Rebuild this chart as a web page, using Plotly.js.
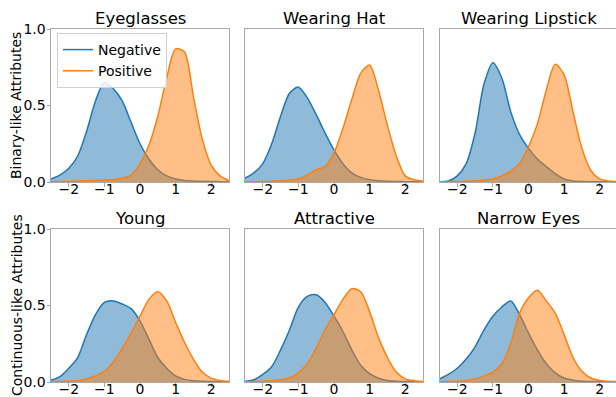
<!DOCTYPE html>
<html><head><meta charset="utf-8">
<script src="https://cdn.plot.ly/plotly-3.0.1.min.js"></script>
<style>html,body{margin:0;padding:0;overflow:hidden;background:#fff}#chart{width:620px;height:397px}</style>
</head><body><div id="chart"></div>
<script>
const xGrid = [-2.5,-2.25,-2,-1.75,-1.5,-1.25,-1,-0.75,-0.5,-0.25,0,0.25,0.5,0.75,1,1.25,1.5,1.75,2,2.25,2.5];
const panelTitles = ["Eyeglasses","Wearing Hat","Wearing Lipstick","Young","Attractive","Narrow Eyes"];
const rowTitles = ["Binary-like Attributes","Continuous-like Attributes"];
const seriesNames = ["Negative","Positive"];
const xTicks = [-2,-1,0,1,2];
const yTicks = [0,0.5,1];

const negEyeglasses = [0.02,0.045,0.09,0.17,0.33,0.53,0.65,0.61,0.53,0.39,0.25,0.15,0.08,0.04,0.02,0.01,0.006,0.004,0.003,0.002,0.001];
const posEyeglasses = [0.002,0.003,0.004,0.006,0.008,0.01,0.012,0.015,0.025,0.045,0.12,0.24,0.43,0.68,0.87,0.85,0.56,0.28,0.11,0.04,0.01];
const negWearingHat = [0.025,0.06,0.12,0.25,0.43,0.58,0.62,0.55,0.44,0.32,0.21,0.12,0.06,0.03,0.015,0.008,0.005,0.003,0.002,0.001,0.001];
const posWearingHat = [0.001,0.002,0.003,0.005,0.008,0.012,0.02,0.045,0.08,0.1,0.19,0.35,0.54,0.71,0.765,0.6,0.37,0.17,0.04,0.015,0.005];
const negWearingLipstick = [0.002,0.006,0.04,0.12,0.32,0.64,0.78,0.68,0.46,0.31,0.22,0.15,0.1,0.055,0.02,0.007,0.003,0.002,0.001,0.001,0.001];
const posWearingLipstick = [0.001,0.002,0.003,0.005,0.008,0.012,0.02,0.04,0.07,0.12,0.23,0.38,0.6,0.77,0.7,0.46,0.22,0.075,0.02,0.007,0.002];
const negYoung = [0.012,0.035,0.09,0.16,0.31,0.44,0.52,0.53,0.51,0.48,0.4,0.28,0.16,0.09,0.04,0.017,0.008,0.005,0.003,0.002,0.001];
const posYoung = [0.003,0.004,0.005,0.008,0.02,0.04,0.07,0.13,0.22,0.32,0.43,0.54,0.59,0.53,0.39,0.26,0.15,0.065,0.025,0.01,0.004];
const negAttractive = [0.005,0.015,0.05,0.1,0.21,0.34,0.49,0.56,0.57,0.52,0.43,0.33,0.21,0.11,0.055,0.025,0.01,0.005,0.003,0.002,0.001];
const posAttractive = [0.002,0.003,0.005,0.008,0.015,0.026,0.06,0.12,0.22,0.34,0.44,0.54,0.61,0.59,0.46,0.29,0.16,0.065,0.02,0.008,0.003];
const negNarrowEyes = [0.02,0.05,0.09,0.15,0.23,0.34,0.43,0.49,0.53,0.44,0.32,0.21,0.12,0.06,0.026,0.012,0.005,0.003,0.002,0.001,0.001];
const posNarrowEyes = [0.002,0.003,0.005,0.01,0.02,0.04,0.065,0.12,0.25,0.45,0.55,0.6,0.53,0.45,0.31,0.16,0.07,0.026,0.01,0.005,0.002];

const negSeries = [negEyeglasses,negWearingHat,negWearingLipstick,negYoung,negAttractive,negNarrowEyes];
const posSeries = [posEyeglasses,posWearingHat,posWearingLipstick,posYoung,posAttractive,posNarrowEyes];

const W = 620, H = 397;
const colPx = [[51,229],[245,423],[439.5,617.5]];
const rowPx = [[29,182],[229,382]];
const BLUE = '#1f77b4', ORANGE = '#ff7f0e';
const FONT = 'DejaVu Sans, sans-serif';

const traces = [];
const layout = {
  width: W, height: H,
  margin: {l:0,r:0,t:0,b:0},
  paper_bgcolor: '#fff', plot_bgcolor: '#fff',
  font: {family: FONT, color: '#000', size: 14},
  showlegend: true,
  legend: {x: 57/W, y: 1-33/H, xanchor:'left', yanchor:'top',
           bgcolor:'rgba(255,255,255,0.85)', bordercolor:'#d0d0d0', borderwidth:1,
           font:{family:FONT,size:14,color:'#000'}, tracegroupgap:0},
  annotations: []
};

for (let i=0;i<6;i++){
  const r = Math.floor(i/3), c = i%3;
  const sx = i===0 ? '' : String(i+1);
  const xa = 'x'+sx, ya = 'y'+sx;
  traces.push({x:xGrid, y:negSeries[i], xaxis:xa, yaxis:ya, mode:'lines', type:'scatter',
    line:{color:BLUE,width:1.5,shape:'spline',smoothing:0.8}, fill:'tozeroy',
    fillcolor:'rgba(31,119,180,0.5)', showlegend:false, hoverinfo:'skip'});
  traces.push({x:xGrid, y:posSeries[i], xaxis:xa, yaxis:ya, mode:'lines', type:'scatter',
    line:{color:ORANGE,width:1.5,shape:'spline',smoothing:0.8}, fill:'tozeroy',
    fillcolor:'rgba(255,127,14,0.5)', showlegend:false, hoverinfo:'skip'});
  const axCommon = {showline:true, mirror:true, linecolor:'#a8a8a8', linewidth:1,
    showgrid:false, zeroline:false, ticks:'outside', ticklen:3.5, tickwidth:1, tickcolor:'#a8a8a8',
    tickfont:{family:FONT,size:14,color:'#000'}, fixedrange:true};
  layout['xaxis'+sx] = Object.assign({}, axCommon, {
    domain:[colPx[c][0]/W, colPx[c][1]/W], range:[-2.5,2.5], tickvals:xTicks, anchor:ya,
    ticklabelstandoff:-9});
  const yax = Object.assign({}, axCommon, {
    domain:[1-rowPx[r][1]/H, 1-rowPx[r][0]/H], range:[0,1], tickvals:yTicks, tickformat:'.1f', anchor:xa,
    ticklabelstandoff:-2});
  if (c===0){
    layout.annotations.push({text:rowTitles[r], xref:'paper', yref:ya+' domain', x:16.5/W, y:0.5,
      xanchor:'center', yanchor:'middle', textangle:-90, showarrow:false,
      font:{family:FONT,size:14,color:'#000'}});
  } else {
    yax.showticklabels = false; yax.ticks = '';
  }
  layout['yaxis'+sx] = yax;
  layout.annotations.push({text:panelTitles[i], xref:xa+' domain', yref:ya+' domain', x:0.5, y:1,
    xanchor:'center', yanchor:'bottom', showarrow:false, yshift:-1,
    font:{family:FONT,size:16.5,color:'#000'}});
}
traces.push({x:[null], y:[null], mode:'lines', name:seriesNames[0], line:{color:BLUE,width:1.5}, xaxis:'x', yaxis:'y'});
traces.push({x:[null], y:[null], mode:'lines', name:seriesNames[1], line:{color:ORANGE,width:1.5}, xaxis:'x', yaxis:'y'});

Plotly.newPlot('chart', traces, layout, {staticPlot:true, displayModeBar:false});
</script>
</body></html>
